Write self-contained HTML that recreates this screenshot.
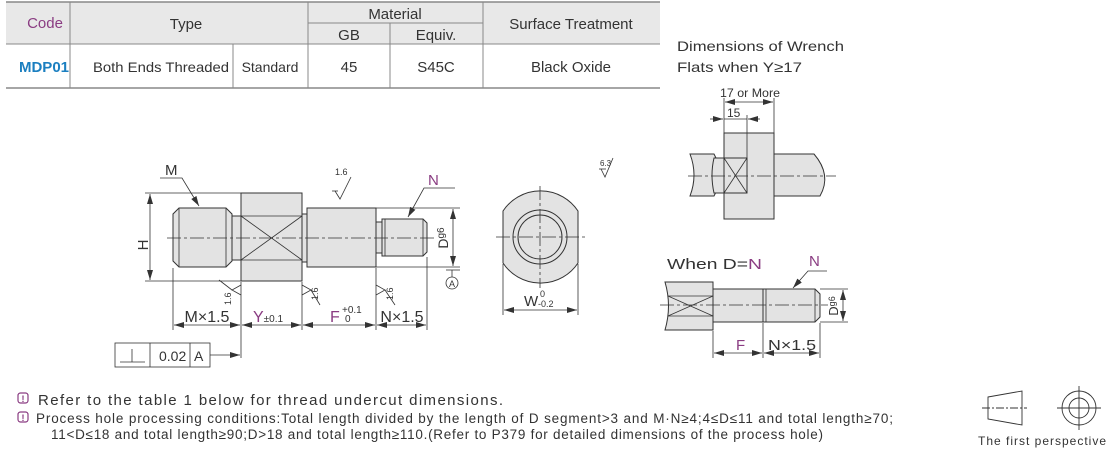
<!DOCTYPE html>
<html><head><meta charset="utf-8"><style>
html,body{margin:0;padding:0;background:#fff;}
body{width:1110px;height:453px;overflow:hidden;}
svg text{font-family:"Liberation Sans",sans-serif;}
</style></head><body>
<svg width="1110" height="453" viewBox="0 0 1110 453" xmlns="http://www.w3.org/2000/svg">
<defs>
<marker id="a" viewBox="0 0 10 6" refX="10" refY="3" markerWidth="10" markerHeight="6" orient="auto-start-reverse" markerUnits="userSpaceOnUse"><path d="M0,0 L10,3 L0,6 z" fill="#333"/></marker>
</defs>
<!-- TABLE -->
<rect x="6" y="2" width="654" height="42" fill="#e8e8e8"/>
<g stroke="#888" stroke-width="1" fill="none">
<line x1="6" y1="2" x2="660" y2="2" stroke-width="1.5"/>
<line x1="6" y1="44" x2="660" y2="44"/>
<line x1="6" y1="88" x2="660" y2="88" stroke-width="1.5"/>
<line x1="308" y1="23" x2="483" y2="23"/>
<line x1="70" y1="2" x2="70" y2="88"/>
<line x1="308" y1="2" x2="308" y2="88"/>
<line x1="483" y1="2" x2="483" y2="88"/>
<line x1="390" y1="23" x2="390" y2="88"/>
<line x1="233" y1="44" x2="233" y2="88"/>
</g>
<g font-size="15" fill="#333" text-anchor="middle">
<text x="45" y="28" fill="#8a3c82">Code</text>
<text x="186" y="29">Type</text>
<text x="395" y="19">Material</text>
<text x="349" y="40">GB</text>
<text x="436" y="40">Equiv.</text>
<text x="571" y="29">Surface Treatment</text>
<text x="44" y="72" fill="#1b7fc0" font-weight="bold">MDP01</text>
<text x="161" y="72" font-size="14" textLength="136" lengthAdjust="spacingAndGlyphs">Both Ends Threaded</text>
<text x="270" y="72" font-size="14">Standard</text>
<text x="349" y="72">45</text>
<text x="436" y="72">S45C</text>
<text x="571" y="72">Black Oxide</text>
</g>
<!-- MAIN PART -->
<g stroke="#333" stroke-width="1" fill="#e3e3e3">
<path d="M179,208 L226,208 L232,214 L232,261 L226,267 L179,267 L173,261 L173,214 Z"/>
<rect x="232" y="216" width="9" height="44"/>
<rect x="241" y="193" width="61" height="88"/>
<rect x="302" y="214" width="6" height="48"/>
<rect x="307" y="208" width="69" height="59"/>
<rect x="376" y="222" width="6" height="31"/>
<path d="M382,219 L423,219 L427,223 L427,252 L423,256 L382,256 Z"/>
</g>
<g stroke="#333" stroke-width="0.8" fill="none">
<line x1="179" y1="208" x2="179" y2="267"/>
<line x1="226" y1="208" x2="226" y2="267"/>
<line x1="385" y1="219" x2="385" y2="256"/>
<line x1="423" y1="219" x2="423" y2="256"/>
<line x1="241" y1="216" x2="302" y2="216"/>
<line x1="241" y1="260" x2="302" y2="260"/>
<line x1="241" y1="216" x2="302" y2="260"/>
<line x1="241" y1="260" x2="302" y2="216"/>
<line x1="167" y1="238" x2="437" y2="238" stroke-dasharray="14,3,3,3"/>
<line x1="145" y1="193" x2="241" y2="193"/>
<line x1="145" y1="281" x2="241" y2="281"/>
<line x1="150" y1="194" x2="150" y2="280" marker-start="url(#a)" marker-end="url(#a)"/>
<line x1="376" y1="208" x2="460" y2="208"/>
<line x1="376" y1="267" x2="460" y2="267"/>
<line x1="453" y1="209" x2="453" y2="266" marker-start="url(#a)" marker-end="url(#a)"/>
<line x1="446" y1="270" x2="460" y2="270"/>
<line x1="452" y1="270" x2="452" y2="277"/>
<circle cx="452" cy="283" r="6"/>
<line x1="173" y1="268" x2="173" y2="330"/>
<line x1="241" y1="282" x2="241" y2="358"/>
<line x1="302" y1="282" x2="302" y2="330"/>
<line x1="376" y1="268" x2="376" y2="330"/>
<line x1="427" y1="257" x2="427" y2="330"/>
<line x1="174" y1="325" x2="240" y2="325" marker-start="url(#a)" marker-end="url(#a)"/>
<line x1="242" y1="325" x2="301" y2="325" marker-start="url(#a)" marker-end="url(#a)"/>
<line x1="303" y1="325" x2="375" y2="325" marker-start="url(#a)" marker-end="url(#a)"/>
<line x1="377" y1="325" x2="426" y2="325" marker-start="url(#a)" marker-end="url(#a)"/>
<polyline points="160,178 182,178 199,206" marker-end="url(#a)"/>
<polyline points="455,188 424,188 408,217" marker-end="url(#a)"/>
<polyline points="335,191 340,199 351,177"/>
<line x1="332" y1="191" x2="338" y2="191"/>
<polyline points="241,285 232,290 241,295"/><line x1="232" y1="290" x2="219" y2="280"/>
<polyline points="302,285 311,290 302,295"/><line x1="311" y1="290" x2="320" y2="305"/>
<polyline points="376,285 385,290 376,295"/><line x1="385" y1="290" x2="395" y2="305"/>
<rect x="115" y="343" width="95" height="24" fill="#fff"/>
<line x1="150" y1="343" x2="150" y2="367"/>
<line x1="190" y1="343" x2="190" y2="367"/>
<line x1="120" y1="362" x2="145" y2="362"/>
<line x1="132" y1="349" x2="132" y2="362"/>
<line x1="210" y1="355" x2="240" y2="355" marker-end="url(#a)"/>
</g>
<g fill="#333" font-size="14">
<text x="165" y="175" font-size="15">M</text>
<text x="428" y="185" font-size="15" fill="#8a3c82">N</text>
<text x="335" y="175" font-size="9">1.6</text>
<text transform="translate(148,245) rotate(-90)" font-size="15" text-anchor="middle">H</text>
<text transform="translate(448,238) rotate(-90)" font-size="14" text-anchor="middle">D<tspan font-size="10" dy="-4">g6</tspan></text>
<text x="452" y="287" font-size="9" text-anchor="middle">A</text>
<text transform="translate(231,305) rotate(-90)" font-size="9">1.6</text>
<text transform="translate(318,300) rotate(-90)" font-size="9">1.6</text>
<text transform="translate(393,300) rotate(-90)" font-size="9">1.6</text>
<text x="207" y="322" font-size="16" text-anchor="middle">M×1.5</text>
<text x="253" y="322" font-size="16" fill="#8a3c82">Y<tspan font-size="10" fill="#333">±0.1</tspan></text>
<text x="330" y="322" font-size="16" fill="#8a3c82">F</text>
<text x="342" y="313" font-size="10">+0.1</text>
<text x="345" y="322" font-size="10">0</text>
<text x="402" y="322" font-size="16" text-anchor="middle">N×1.5</text>
<text x="159" y="361" font-size="14">0.02</text>
<text x="194" y="361" font-size="14">A</text>
</g>
<!-- END VIEW -->
<g stroke="#333" stroke-width="1">
<path d="M503,211 A45,45 0 0 1 578,211 L578,263 A45,45 0 0 1 503,263 Z" fill="#e3e3e3"/>
<circle cx="540" cy="237" r="27" fill="none"/>
<circle cx="540" cy="237" r="22" fill="none"/>
<line x1="496" y1="237" x2="585" y2="237" stroke-dasharray="14,3,3,3" stroke-width="0.8"/>
<line x1="540" y1="186" x2="540" y2="288" stroke-dasharray="14,3,3,3" stroke-width="0.8"/>
<line x1="503" y1="264" x2="503" y2="315" stroke-width="0.8"/>
<line x1="578" y1="264" x2="578" y2="315" stroke-width="0.8"/>
<line x1="504" y1="310" x2="577" y2="310" stroke-width="0.8" marker-start="url(#a)" marker-end="url(#a)"/>
<polyline points="601,169 605,177 613,158" fill="none" stroke-width="0.8"/>
<line x1="599" y1="169" x2="606" y2="169" stroke-width="0.8"/>
</g>
<g fill="#333">
<text x="524" y="306" font-size="15">W</text>
<text x="540" y="297" font-size="9">0</text>
<text x="538" y="307" font-size="9">-0.2</text>
<text x="600" y="166" font-size="8">6.3</text>
</g>
<!-- WRENCH VIEW -->
<g fill="#333" font-size="14">
<text x="677" y="51" textLength="167" lengthAdjust="spacingAndGlyphs">Dimensions of Wrench</text>
<text x="677" y="72" textLength="125" lengthAdjust="spacingAndGlyphs">Flats when Y≥17</text>
<text x="720" y="97" font-size="12" textLength="60" lengthAdjust="spacingAndGlyphs">17 or More</text>
<text x="727" y="117" font-size="12">15</text>
</g>
<g stroke="#333" stroke-width="1">
<path d="M690,154 L714,154 L717,160 L717,190 L714,196 L690,196 Q698,175 690,154 Z" fill="#e3e3e3"/>
<path d="M714,158 L724,158 L724,193 L714,193 Q710,175 714,158 Z" fill="#e3e3e3"/>
<rect x="724" y="133" width="50" height="86" fill="#e3e3e3"/>
<path d="M774,154 L814,154 Q832,175 820,196 L774,196 Z" fill="#e3e3e3"/>
<rect x="724" y="158" width="23" height="35" fill="none"/>
<line x1="724" y1="158" x2="747" y2="193" stroke-width="0.8"/>
<line x1="724" y1="193" x2="747" y2="158" stroke-width="0.8"/>
<line x1="688" y1="176" x2="836" y2="176" stroke-dasharray="14,3,3,3" stroke-width="0.8"/>
<line x1="724" y1="98" x2="724" y2="133" stroke-width="0.8"/>
<line x1="774" y1="98" x2="774" y2="133" stroke-width="0.8"/>
<line x1="747" y1="115" x2="747" y2="158" stroke-width="0.8"/>
<line x1="725" y1="102" x2="773" y2="102" stroke-width="0.8" marker-start="url(#a)" marker-end="url(#a)"/>
<line x1="710" y1="119" x2="723" y2="119" stroke-width="0.8" marker-end="url(#a)"/>
<line x1="760" y1="119" x2="748" y2="119" stroke-width="0.8" marker-end="url(#a)"/>
<line x1="724" y1="119" x2="747" y2="119" stroke-width="0.8"/>
</g>
<!-- WHEN D=N VIEW -->
<g fill="#333" font-size="15">
<text x="667" y="269" textLength="95" lengthAdjust="spacingAndGlyphs">When D=<tspan fill="#8a3c82">N</tspan></text>
<text x="809" y="266" fill="#8a3c82" font-size="15">N</text>
<text transform="translate(838,306) rotate(-90)" text-anchor="middle" font-size="13">D<tspan font-size="9" dy="-3">g6</tspan></text>
<text x="736" y="350" font-size="15" fill="#8a3c82">F</text>
<text x="768" y="350" font-size="15" textLength="48" lengthAdjust="spacingAndGlyphs">N×1.5</text>
</g>
<g stroke="#333" stroke-width="1">
<path d="M665,282 L713,282 L713,330 L665,330 Q672,306 665,282 Z" fill="#e3e3e3"/>
<rect x="713" y="289" width="50" height="33" fill="#e3e3e3"/>
<path d="M763,289 L815,289 L820,294 L820,317 L815,322 L763,322 Z" fill="#e3e3e3"/>
<line x1="766" y1="289" x2="766" y2="322" stroke-width="0.8"/>
<line x1="815" y1="289" x2="815" y2="322" stroke-width="0.8"/>
<line x1="668" y1="296" x2="713" y2="296" stroke-width="0.8"/>
<line x1="668" y1="316" x2="713" y2="316" stroke-width="0.8"/>
<line x1="668" y1="296" x2="713" y2="316" stroke-width="0.8"/>
<line x1="668" y1="316" x2="713" y2="296" stroke-width="0.8"/>
<line x1="660" y1="305" x2="828" y2="305" stroke-dasharray="14,3,3,3" stroke-width="0.8"/>
<line x1="820" y1="289" x2="848" y2="289" stroke-width="0.8"/>
<line x1="820" y1="322" x2="848" y2="322" stroke-width="0.8"/>
<line x1="843" y1="290" x2="843" y2="321" stroke-width="0.8" marker-start="url(#a)" marker-end="url(#a)"/>
<polyline points="827,271 808,271 793,288" fill="none" stroke-width="0.8" marker-end="url(#a)"/>
<line x1="713" y1="331" x2="713" y2="358" stroke-width="0.8"/>
<line x1="763" y1="323" x2="763" y2="358" stroke-width="0.8"/>
<line x1="820" y1="323" x2="820" y2="358" stroke-width="0.8"/>
<line x1="714" y1="353" x2="762" y2="353" stroke-width="0.8" marker-start="url(#a)" marker-end="url(#a)"/>
<line x1="764" y1="353" x2="819" y2="353" stroke-width="0.8" marker-start="url(#a)" marker-end="url(#a)"/>
</g>
<!-- NOTES -->
<g fill="none" stroke="#8a3c82" stroke-width="1.2">
<rect x="18" y="393" width="10" height="10" rx="2.5"/>
<rect x="18" y="412" width="10" height="10" rx="2.5"/>
</g>
<g fill="#8a3c82" font-size="9" font-weight="bold" text-anchor="middle">
<text x="23" y="402">!</text><text x="23" y="421">!</text>
</g>
<g fill="#333" font-size="14">
<text x="38" y="405" font-size="15" textLength="465" lengthAdjust="spacing">Refer to the table 1 below for thread undercut dimensions.</text>
<text x="36" y="423" font-size="13.5" textLength="857" lengthAdjust="spacing">Process hole processing conditions:Total length divided by the length of D segment&gt;3 and M·N≥4;4≤D≤11 and total length≥70;</text>
<text x="51" y="439" font-size="13.5" textLength="772" lengthAdjust="spacing">11&lt;D≤18 and total length≥90;D&gt;18 and total length≥110.(Refer to P379 for detailed dimensions of the process hole)</text>
</g>
<!-- FIRST PERSPECTIVE -->
<g stroke="#333" stroke-width="0.9" fill="none">
<path d="M988,397 L1022,391 L1022,425 L988,419 Z"/>
<line x1="982" y1="408" x2="1027" y2="408" stroke-dasharray="8,2,2,2"/>
<circle cx="1079" cy="408" r="17"/>
<circle cx="1079" cy="408" r="10"/>
<line x1="1057" y1="408" x2="1101" y2="408"/>
<line x1="1079" y1="386" x2="1079" y2="430"/>
</g>
<text x="978" y="445" font-size="12" fill="#333" textLength="128" lengthAdjust="spacing">The first perspective</text>
</svg>
</body></html>
